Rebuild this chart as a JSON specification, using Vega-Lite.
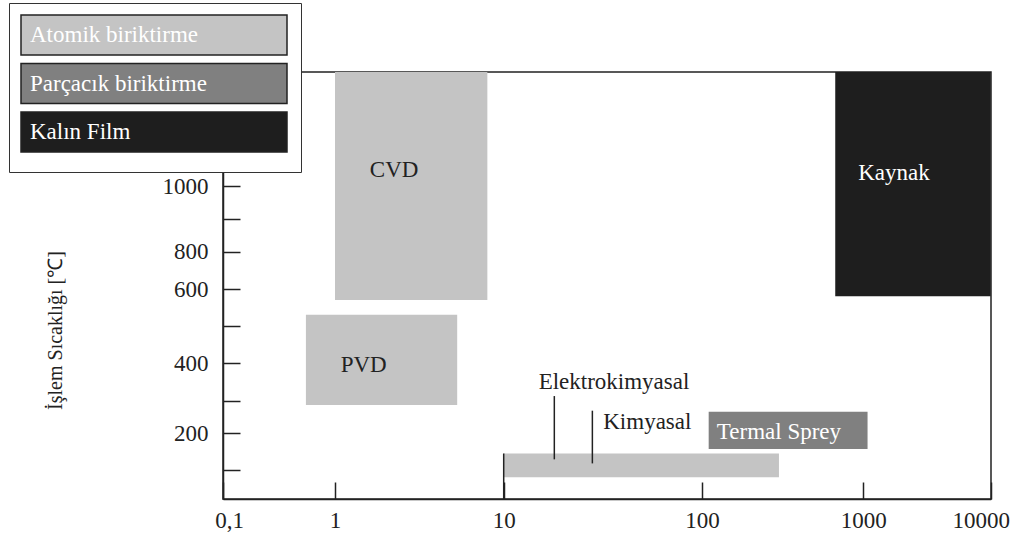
{
  "$schema": "https://vega.github.io/schema/vega-lite/v6.json",
  "width": 768,
  "height": 427,
  "autosize": {"type": "none"},
  "padding": {"left": 223, "top": 72, "right": 30, "bottom": 43},
  "background": "white",
  "config": {
    "font": "Liberation Serif",
    "view": {"stroke": "#222", "strokeWidth": 1.5},
    "axis": {
      "grid": false,
      "domainColor": "#222",
      "domainWidth": 1.5,
      "tickColor": "#222",
      "tickWidth": 1.5,
      "tickSize": -17,
      "labelFont": "Liberation Serif",
      "labelFontSize": 23,
      "labelColor": "#222",
      "titleFont": "Liberation Serif",
      "titleColor": "#222",
      "titleFontWeight": "normal"
    }
  },
  "datasets": {
    "zones": [
      {"name": "CVD", "type": "Atomik biriktirme", "x": 1, "x2": 8, "y": 570, "y2": 1340},
      {"name": "PVD", "type": "Atomik biriktirme", "x": 0.55, "x2": 5.3, "y": 288, "y2": 530},
      {"name": "Elektrokimyasal / Kimyasal", "type": "Atomik biriktirme", "x": 10, "x2": 300, "y": 75, "y2": 145},
      {"name": "Termal Sprey", "type": "Parçacık biriktirme", "x": 110, "x2": 1080, "y": 157, "y2": 267},
      {"name": "Kaynak", "type": "Kalın Film", "x": 670, "x2": 10000, "y": 580, "y2": 1340}
    ],
    "labels": [
      {"text": "CVD", "type": "Atomik biriktirme", "x": 2.24, "y": 1048},
      {"text": "PVD", "type": "Atomik biriktirme", "x": 1.48, "y": 395},
      {"text": "Elektrokimyasal", "type": "Atomik biriktirme", "x": 36, "y": 351},
      {"text": "Kimyasal", "type": "Atomik biriktirme", "x": 53, "y": 236},
      {"text": "Termal Sprey", "type": "Parçacık biriktirme", "x": 300, "y": 205},
      {"text": "Kaynak", "type": "Kalın Film", "x": 1740, "y": 1040}
    ],
    "leaders": [
      {"x": 18, "y": 129, "y2": 313},
      {"x": 28, "y": 118, "y2": 270},
      {"x": 10, "y": 0, "y2": 145}
    ]
  },
  "encoding": {
    "x": {
      "field": "x",
      "type": "quantitative",
      "scale": {"type": "log", "domain": [0.1, 1, 10, 100, 1000, 10000], "range": [0, 112, 280.7, 479, 640.3, 767.7], "nice": false},
      "axis": {
        "title": null,
        "values": [0.1, 1, 10, 100, 1000, 10000],
        "labelExpr": "datum.value < 1 ? '0,1' : format(datum.value, 'd')",
        "labelPadding": 27,
        "labelFlush": false,
        "labelOverlap": false,
        "labelOffset": {"condition": [{"test": "datum.value == 10000", "value": -10}, {"test": "datum.value < 1", "value": 6}], "value": 0}
      }
    },
    "y": {
      "field": "y",
      "type": "quantitative",
      "scale": {"type": "linear", "domain": [0, 100, 200, 300, 400, 500, 600, 800, 900, 1000, 1340], "range": [427, 398, 361.3, 329, 291, 253.7, 217, 179.7, 147.3, 114, 0], "nice": false, "zero": false},
      "axis": {
        "title": "İşlem Sıcaklığı [℃]",
        "titleFontSize": 20,
        "titleX": -168,
        "titleY": 258,
        "titleAlign": "center",
        "titleBaseline": "middle",
        "titleAngle": -90,
        "values": [100, 200, 300, 400, 500, 600, 800, 900, 1000],
        "labelExpr": "indexof([200, 400, 600, 800, 1000], datum.value) >= 0 ? format(datum.value, 'd') : ''",
        "labelPadding": 32,
        "labelOverlap": false,
        "labelFlush": false
      }
    }
  },
  "layer": [
    {
      "data": {"name": "zones"},
      "mark": {"type": "rect", "strokeWidth": 0},
      "encoding": {
        "x2": {"field": "x2"},
        "y2": {"field": "y2"},
        "color": {
          "field": "type",
          "type": "nominal",
          "scale": {"domain": ["Atomik biriktirme", "Parçacık biriktirme", "Kalın Film"], "range": ["#c4c4c4", "#808080", "#1e1e1e"]},
          "legend": {
            "title": " ",
            "titleOrient": "bottom",
            "titleFontSize": 4,
            "titlePadding": 2,
            "orient": "none",
            "legendX": -214,
            "legendY": -69,
            "direction": "vertical",
            "padding": 11,
            "strokeColor": "#333",
            "fillColor": "white",
            "symbolType": "M-1,-1H12.3V1H-1Z",
            "symbolSize": 1600,
            "symbolStrokeColor": "#222",
            "symbolStrokeWidth": 1.5,
            "symbolOpacity": 1,
            "rowPadding": 2.5,
            "labelColor": "white",
            "labelFont": "Liberation Serif",
            "labelFontSize": 23,
            "labelOffset": -32,
            "labelLimit": 260
          }
        }
      }
    },
    {
      "data": {"name": "leaders"},
      "mark": {"type": "rule", "color": "#222", "strokeWidth": 1.5},
      "encoding": {
        "y2": {"field": "y2"}
      }
    },
    {
      "data": {"name": "labels"},
      "mark": {"type": "text", "font": "Liberation Serif", "fontSize": 23, "align": "center", "baseline": "middle"},
      "encoding": {
        "text": {"field": "text"},
        "color": {
          "condition": {"test": "datum.type != 'Atomik biriktirme'", "value": "white"},
          "value": "#222"
        }
      }
    }
  ]
}
